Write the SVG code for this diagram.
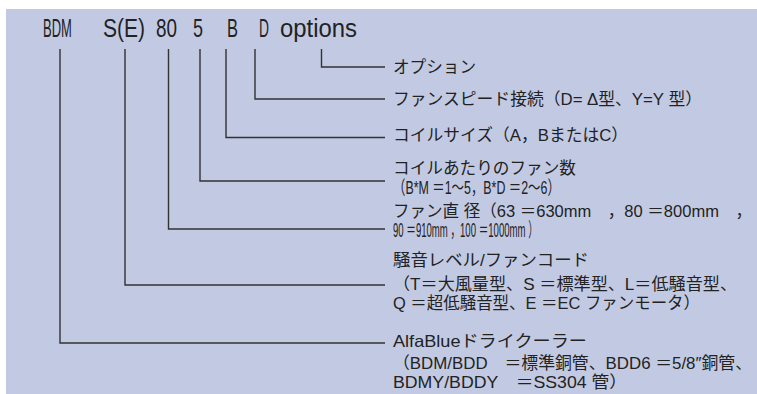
<svg xmlns="http://www.w3.org/2000/svg" width="757" height="394" viewBox="0 0 757 394">
<style>
.t{font-family:"Liberation Sans","Noto Sans CJK JP",sans-serif;font-size:16.5px;fill:#222}
.n{font-size:17px}
.h{font-family:"Liberation Sans","Noto Sans",sans-serif;font-size:26px;fill:#222}
.c{fill:none;stroke:#333;stroke-width:1.4}
</style>
<rect x="0" y="0" width="757" height="394" fill="#ffffff"/>
<rect x="6" y="9" width="751" height="385" fill="#c2cae3"/>
<g id="title">
<g transform="matrix(0.5 0 0 1 43 37)"><text class="h" x="0" y="0">BDM</text></g>
<text class="h" x="103" y="37" textLength="42" lengthAdjust="spacingAndGlyphs">S(E)</text>
<text class="h" x="156" y="37" textLength="21" lengthAdjust="spacingAndGlyphs">80</text>
<text class="h" x="193" y="37" textLength="10" lengthAdjust="spacingAndGlyphs">5</text>
<text class="h" x="227" y="37" textLength="11" lengthAdjust="spacingAndGlyphs">B</text>
<text class="h" x="259" y="37" textLength="10" lengthAdjust="spacingAndGlyphs">D</text>
<text class="h" x="280" y="37" textLength="77" lengthAdjust="spacingAndGlyphs">options</text>
</g>
<g id="connectors">
<path class="c" d="M321.5 49V67H385"/>
<path class="c" d="M255 49V99H385"/>
<path class="c" d="M226 49V137.5H385"/>
<path class="c" d="M200 49V181H385"/>
<path class="c" d="M168.5 49V229H385"/>
<path class="c" d="M125 49V285H385"/>
<path class="c" d="M60 49V343H385"/>
</g>
<g id="n-options">
<text class="t" x="393" y="73" textLength="83" lengthAdjust="spacingAndGlyphs">オプション</text>
</g>
<g id="n-fanspeed">
<text class="t" x="393" y="105" textLength="309" lengthAdjust="spacingAndGlyphs">ファンスピード接続（D= Δ型、Y=Y 型）</text>
</g>
<g id="n-coilsize">
<text class="t" x="393" y="141" textLength="235" lengthAdjust="spacingAndGlyphs">コイルサイズ（A，BまたはC）</text>
</g>
<g id="n-fancount">
<text class="t" x="393" y="174" textLength="183" lengthAdjust="spacingAndGlyphs">コイルあたりのファン数</text>
<g transform="matrix(0.73 0 0 1.1 393 194)"><text class="t n" x="0" y="0">（B*M ＝1～5，B*D ＝2～6）</text></g>
</g>
<g id="n-fandia">
<text class="t" x="393" y="217" textLength="359" lengthAdjust="spacingAndGlyphs">ファン直 径（63 ＝630mm　，80 ＝800mm　，</text>
<g transform="matrix(0.564 0 0 1.15 393 237)"><text class="t n" x="0" y="0">90 ＝910mm ，100 ＝1000mm ）</text></g>
</g>
<g id="n-noise">
<text class="t" x="393" y="266" textLength="196" lengthAdjust="spacingAndGlyphs">騒音レベル/ファンコード</text>
<text class="t" x="393" y="290" textLength="344" lengthAdjust="spacingAndGlyphs">（T＝大風量型、S ＝標準型、L＝低騒音型、</text>
<text class="t" x="393" y="309" textLength="307" lengthAdjust="spacingAndGlyphs">Q ＝超低騒音型、E ＝EC ファンモータ）</text>
</g>
<g id="n-product">
<text class="t" x="393" y="347" textLength="194" lengthAdjust="spacingAndGlyphs">AlfaBlueドライクーラー</text>
<text class="t" x="393" y="369" textLength="359" lengthAdjust="spacingAndGlyphs">（BDM/BDD　＝標準銅管、BDD6 ＝5/8″銅管、</text>
<text class="t" x="393" y="388" textLength="234" lengthAdjust="spacingAndGlyphs">BDMY/BDDY　＝SS304 管）</text>
</g>
</svg>
